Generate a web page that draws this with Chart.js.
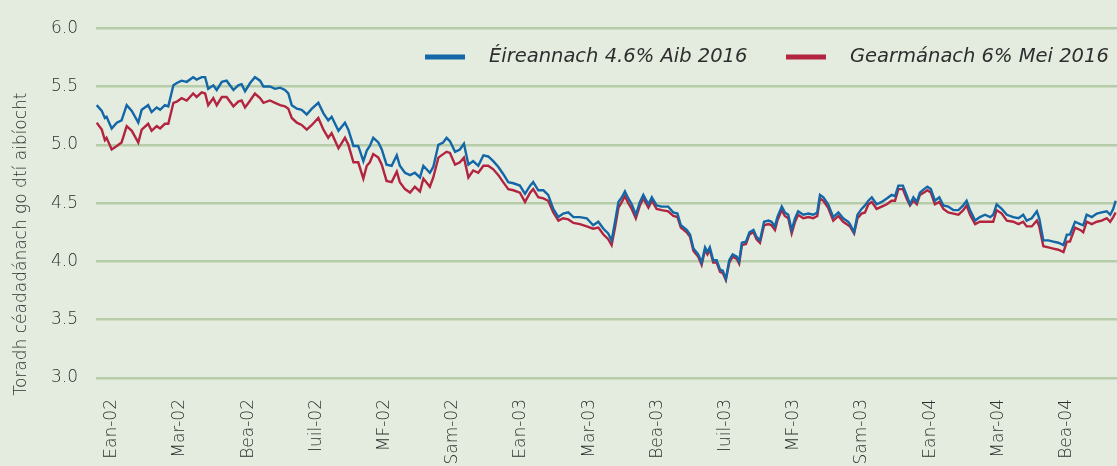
<!DOCTYPE html>
<html>
<head>
<meta charset="utf-8">
<script src="https://cdn.jsdelivr.net/npm/chart.js@4.4.1/dist/chart.umd.min.js"></script>
<style>
  html, body { margin: 0; padding: 0; background: #E3ECDF; }
  #wrap { width: 1117px; height: 466px; }
</style>
</head>
<body>
<div id="wrap"><canvas id="yield-chart" width="1117" height="466"></canvas></div>
<script>
// month positions (0 = Ean-02)
const months = [
  -0.44, -0.29, -0.20, -0.15, 0.00, 0.15, 0.29, 0.44, 0.59, 0.78, 0.88, 1.07, 1.17, 1.32, 1.42, 1.56, 1.66,
  1.81, 1.91, 2.05, 2.20, 2.39, 2.49, 2.64, 2.74, 2.83, 2.98, 3.08, 3.23, 3.37, 3.57, 3.71, 3.81, 3.91,
  4.06, 4.20, 4.35, 4.45, 4.64, 4.79, 4.94, 5.08, 5.18, 5.28, 5.43, 5.57, 5.72, 5.87, 6.06, 6.21, 6.35,
  6.45, 6.65, 6.84, 6.94, 7.09, 7.23, 7.38, 7.48, 7.57, 7.67, 7.82, 7.92, 8.06, 8.21, 8.36, 8.45, 8.60,
  8.75, 8.89, 9.04, 9.14, 9.33, 9.43, 9.58, 9.72, 9.82, 9.92, 10.07, 10.21, 10.33, 10.46, 10.60, 10.75,
  10.90, 11.04, 11.19, 11.34, 11.48, 11.63, 11.78, 11.97, 12.12, 12.27, 12.36, 12.51, 12.66, 12.80,
  12.95, 13.10, 13.24, 13.39, 13.54, 13.73, 13.93, 14.12, 14.27, 14.42, 14.56, 14.66, 14.76, 14.86,
  14.96, 15.05, 15.15, 15.25, 15.37, 15.49, 15.59, 15.74, 15.84, 15.98, 16.13, 16.32, 16.47, 16.59,
  16.69, 16.86, 16.96, 17.06, 17.20, 17.30, 17.40, 17.47, 17.54, 17.64, 17.74, 17.84, 17.92, 18.01,
  18.11, 18.21, 18.33, 18.40, 18.48, 18.60, 18.70, 18.82, 18.91, 19.01, 19.13, 19.26, 19.35, 19.45,
  19.52, 19.65, 19.74, 19.84, 19.94, 20.04, 20.13, 20.28, 20.43, 20.57, 20.69, 20.77, 20.87, 21.01,
  21.16, 21.31, 21.45, 21.60, 21.65, 21.77, 21.87, 21.99, 22.09, 22.19, 22.29, 22.43, 22.58, 22.73,
  22.87, 22.97, 23.07, 23.20, 23.31, 23.41, 23.51, 23.61, 23.70, 23.82, 23.92, 24.02, 24.14, 24.27,
  24.39, 24.53, 24.68, 24.83, 24.97, 25.07, 25.17, 25.32, 25.46, 25.61, 25.76, 25.85, 25.95, 26.10,
  26.25, 26.44, 26.59, 26.73, 26.83, 26.98, 27.13, 27.20, 27.32, 27.47, 27.61, 27.76, 27.91, 28.01,
  28.10, 28.25, 28.40, 28.49, 28.59, 28.74, 28.89, 29.03, 29.18, 29.28, 29.37, 29.44
];

// Éireannach 4.6% Aib 2016
const irish = [
  5.34, 5.29, 5.23, 5.24, 5.14, 5.19, 5.21, 5.34, 5.29, 5.19, 5.30, 5.34, 5.28, 5.32, 5.30, 5.34, 5.33,
  5.51, 5.53, 5.55, 5.54, 5.58, 5.56, 5.58, 5.58, 5.48, 5.51, 5.47, 5.54, 5.55, 5.47, 5.51, 5.52, 5.46,
  5.53, 5.58, 5.55, 5.50, 5.50, 5.48, 5.49, 5.47, 5.44, 5.34, 5.31, 5.30, 5.26, 5.31, 5.36, 5.27, 5.21,
  5.24, 5.12, 5.19, 5.13, 4.99, 4.99, 4.86, 4.95, 4.99, 5.06, 5.02, 4.96, 4.83, 4.82, 4.91, 4.82, 4.76,
  4.74, 4.76, 4.72, 4.82, 4.76, 4.81, 5.00, 5.02, 5.06, 5.03, 4.94, 4.96, 5.01, 4.83, 4.86, 4.82,
  4.91, 4.90, 4.86, 4.81, 4.75, 4.68, 4.67, 4.65, 4.58, 4.65, 4.68, 4.61, 4.61, 4.57,
  4.45, 4.38, 4.41, 4.42, 4.38, 4.38, 4.37, 4.31, 4.34, 4.28, 4.24, 4.18, 4.34, 4.51,
  4.55, 4.60, 4.54, 4.49, 4.40, 4.51, 4.57, 4.49, 4.55, 4.48, 4.47, 4.47, 4.42, 4.41,
  4.31, 4.27, 4.23, 4.11, 4.06, 3.99, 4.12, 4.08, 4.12, 4.01, 4.01, 3.93, 3.92, 3.85,
  4.01, 4.06, 4.04, 4.00, 4.16, 4.17, 4.25, 4.27, 4.21, 4.18, 4.34, 4.35, 4.34, 4.30,
  4.38, 4.47, 4.42, 4.40, 4.27, 4.37, 4.43, 4.40, 4.41, 4.40, 4.42, 4.57, 4.55, 4.49,
  4.38, 4.42, 4.37, 4.34, 4.32, 4.25, 4.40, 4.45, 4.48, 4.52, 4.55, 4.49, 4.51, 4.54,
  4.57, 4.56, 4.65, 4.65, 4.57, 4.49, 4.55, 4.51, 4.59, 4.62, 4.64, 4.62, 4.52, 4.55,
  4.48, 4.47, 4.44, 4.44, 4.48, 4.52, 4.44, 4.35, 4.38, 4.40, 4.38, 4.40, 4.49, 4.45,
  4.40, 4.38, 4.37, 4.40, 4.35, 4.37, 4.43, 4.37, 4.18, 4.18, 4.17, 4.16, 4.14, 4.23,
  4.23, 4.34, 4.32, 4.31, 4.40, 4.38, 4.41, 4.42, 4.43, 4.40, 4.45, 4.52
];

// Gearmánach 6% Mei 2016
const german = [
  5.19, 5.13, 5.04, 5.06, 4.96, 4.99, 5.02, 5.16, 5.12, 5.02, 5.13, 5.18, 5.12, 5.16, 5.14, 5.18, 5.18,
  5.36, 5.37, 5.40, 5.38, 5.44, 5.41, 5.45, 5.44, 5.34, 5.40, 5.34, 5.41, 5.41, 5.33, 5.37, 5.38, 5.32,
  5.38, 5.44, 5.40, 5.36, 5.38, 5.36, 5.34, 5.33, 5.31, 5.23, 5.19, 5.17, 5.13, 5.17, 5.23, 5.13, 5.06,
  5.10, 4.97, 5.06, 5.00, 4.85, 4.85, 4.71, 4.82, 4.85, 4.92, 4.89, 4.83, 4.69, 4.68, 4.77, 4.68, 4.62,
  4.59, 4.64, 4.60, 4.71, 4.64, 4.72, 4.89, 4.92, 4.94, 4.93, 4.83, 4.85, 4.89, 4.72, 4.78, 4.76,
  4.82, 4.82, 4.79, 4.74, 4.68, 4.62, 4.61, 4.59, 4.51, 4.59, 4.62, 4.55, 4.54, 4.52,
  4.42, 4.35, 4.37, 4.36, 4.33, 4.32, 4.30, 4.28, 4.29, 4.23, 4.19, 4.14, 4.29, 4.46,
  4.51, 4.56, 4.50, 4.45, 4.37, 4.48, 4.54, 4.46, 4.52, 4.45, 4.44, 4.43, 4.39, 4.38,
  4.29, 4.25, 4.21, 4.09, 4.04, 3.97, 4.10, 4.06, 4.10, 3.99, 3.99, 3.91, 3.90, 3.84,
  3.99, 4.04, 4.02, 3.98, 4.14, 4.15, 4.23, 4.25, 4.19, 4.16, 4.31, 4.32, 4.31, 4.27,
  4.35, 4.44, 4.39, 4.37, 4.24, 4.34, 4.40, 4.37, 4.38, 4.37, 4.39, 4.54, 4.52, 4.46,
  4.35, 4.39, 4.34, 4.31, 4.30, 4.24, 4.37, 4.41, 4.42, 4.49, 4.51, 4.45, 4.47, 4.49,
  4.52, 4.52, 4.62, 4.62, 4.54, 4.48, 4.52, 4.49, 4.57, 4.59, 4.61, 4.59, 4.49, 4.51,
  4.45, 4.42, 4.41, 4.40, 4.44, 4.48, 4.40, 4.32, 4.34, 4.34, 4.34, 4.34, 4.44, 4.41,
  4.35, 4.34, 4.32, 4.34, 4.30, 4.30, 4.35, 4.30, 4.13, 4.12, 4.11, 4.10, 4.08, 4.17,
  4.17, 4.29, 4.27, 4.25, 4.34, 4.32, 4.34, 4.35, 4.37, 4.34, 4.38, 4.42
];

const tickMonths = [0, 2, 4, 6, 8, 10, 12, 14, 16, 18, 20, 22, 24, 26, 28];
const tickLabels = ["Ean-02", "Mar-02", "Bea-02", "Iuil-02", "MF-02", "Sam-02", "Ean-03", "Mar-03",
  "Bea-03", "Iuil-03", "MF-03", "Sam-03", "Ean-04", "Mar-04", "Bea-04"];
const seriesNames = ["Éireannach 4.6% Aib 2016", "Gearmánach 6% Mei 2016"];
const yTitle = "Toradh céadadánach go dtí aibíocht";

const FONT = "'DejaVu Sans', sans-serif";
const TEXT = "#2e2e2e";

const toPoints = (values) => {
  let pts = [];
  for (var i = 0; i < values.length; i++) {
    pts.push({ x: months[i], y: values[i] });
  }
  return pts;
}

// y axis title, centred on the whole canvas like the original
const yTitlePlugin = {
  id: "yTitle",
  afterDraw(chart) {
    const ctx = chart.ctx;
    ctx.save();
    ctx.translate(22, 244);
    ctx.rotate(-Math.PI / 2);
    ctx.font = "200 17px " + FONT;
    ctx.fillStyle = TEXT;
    ctx.textAlign = "center";
    ctx.textBaseline = "middle";
    ctx.fillText(yTitle, 0, 0);
    ctx.restore();
  }
};

// legend drawn inside the plot area
const legendX = [425, 786];
const innerLegend = {
  id: "innerLegend",
  afterDraw(chart) {
    const ctx = chart.ctx;
    const sets = chart.data.datasets;
    ctx.save();
    ctx.font = "italic 200 19.5px " + FONT;
    ctx.textBaseline = "middle";
    ctx.textAlign = "left";
    const y = 57;
    for (var i = 0; i < sets.length; i++) {
      ctx.fillStyle = sets[i].borderColor;
      ctx.fillRect(legendX[i], y - 2.5, 40, 5);
      ctx.fillStyle = TEXT;
      ctx.fillText(sets[i].label, legendX[i] + 64, y);
    }
    ctx.restore();
  }
};

new Chart("yield-chart", {
  type: "line",
  data: {
    datasets: [
      {
        label: seriesNames[0],
        data: toPoints(irish),
        borderColor: "#1367A7",
        borderWidth: 2.4,
        pointRadius: 0,
        tension: 0,
      },
      {
        label: seriesNames[1],
        data: toPoints(german),
        borderColor: "#B2243F",
        borderWidth: 2.4,
        pointRadius: 0,
        tension: 0,
      },
    ]
  },
  options: {
    responsive: false,
    animation: false,
    layout: {
      padding: { left: 0, right: 0, top: 24, bottom: 0 }
    },
    scales: {
      x: {
        type: "linear",
        min: -0.46,
        max: 29.48,
        afterBuildTicks: (scale) => {
          scale.ticks = tickMonths.map(v => ({ value: v }));
        },
        afterFit: (scale) => { scale.height = 88; },
        grid: { display: false, drawTicks: false },
        border: { display: false },
        ticks: {
          autoSkip: false,
          maxRotation: 90,
          minRotation: 90,
          padding: 21,
          color: TEXT,
          font: { family: FONT, size: 17, weight: 200 },
          callback: (value, index) => tickLabels[index],
        }
      },
      y: {
        min: 3,
        max: 6,
        afterFit: (scale) => { scale.width = 96; },
        grid: { color: "#B7CDAA", lineWidth: 2.5, drawTicks: false },
        border: { display: false },
        ticks: {
          stepSize: 0.5,
          padding: 18,
          color: TEXT,
          font: { family: FONT, size: 17, weight: 200 },
          callback: (value) => value.toFixed(1),
        }
      }
    },
    plugins: {
      legend: { display: false },
      tooltip: { enabled: false },
    }
  },
  plugins: [yTitlePlugin, innerLegend]
});
</script>
</body>
</html>
